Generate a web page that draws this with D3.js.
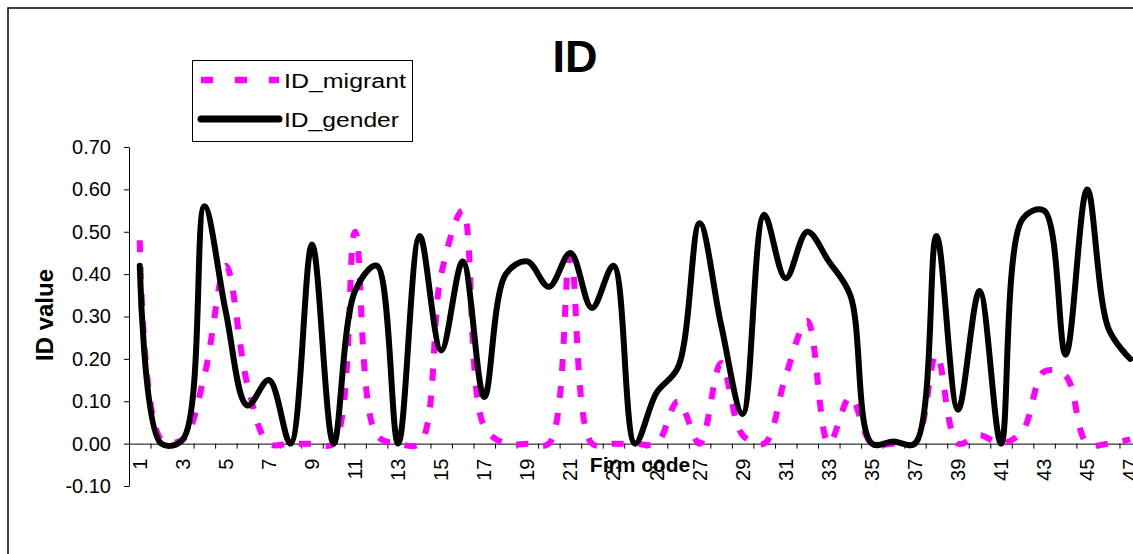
<!DOCTYPE html>
<html>
<head>
<meta charset="utf-8">
<script src="https://cdn.jsdelivr.net/npm/d3@7"></script>
<style>
  html, body { margin: 0; padding: 0; background: #fff; overflow: hidden; }
  svg { display: block; font-family: "Liberation Sans", Arial, sans-serif; }
</style>
</head>
<body>
<svg id="chart" width="1133" height="554"></svg>
<script>
// firm codes 1..47
var firms = d3.range(1, 48);

var idMigrant = [
  0.48, 0.01, 0.01, 0.16, 0.42, 0.14, 0.00, 0.00, 0.00, 0.00,
  0.50, 0.02, 0.00, 0.00, 0.40, 0.55, 0.04, 0.00, 0.00, 0.00,
  0.44, 0.00, 0.00, 0.00, 0.00, 0.10, 0.00, 0.19, 0.02, 0.00,
  0.16, 0.29, 0.00, 0.11, 0.00, 0.00, 0.00, 0.21, 0.00, 0.02,
  0.00, 0.03, 0.17, 0.16, 0.00, 0.00, 0.01
];

var idGender = [
  0.42, 0.00, 0.01, 0.56, 0.31, 0.09, 0.15, 0.00, 0.47, 0.00,
  0.36, 0.42, 0.00, 0.49, 0.22, 0.43, 0.11, 0.40, 0.43, 0.37,
  0.45, 0.32, 0.42, 0.00, 0.12, 0.18, 0.52, 0.28, 0.07, 0.54,
  0.39, 0.50, 0.43, 0.35, 0.00, 0.005, 0.00, 0.49, 0.08, 0.36,
  0.00, 0.53, 0.55, 0.21, 0.60, 0.27, 0.20
];

var yTicks = [-0.10, 0.00, 0.10, 0.20, 0.30, 0.40, 0.50, 0.60, 0.70];
var xLabels = firms.filter(function(d) { return d % 2 === 1; });

var seriesNames = ['ID_migrant', 'ID_gender'];
var magenta = '#ff00ff';

var svg = d3.select('#chart');

// outer chart frame (right / bottom edges fall outside the picture)
svg.append('rect')
  .attr('x', 8)
  .attr('y', 8)
  .attr('width', 1160)
  .attr('height', 580)
  .style('fill', '#fff')
  .style('stroke', '#111')
  .style('stroke-width', 1.6);

var plotLeft = 129, plotRight = 1141, plotTop = 147, plotBottom = 486;

var x = d3.scalePoint()
  .domain(firms)
  .range([plotLeft, plotRight])
  .padding(0.5);

var xEdge = d3.scaleLinear()
  .domain([0, firms.length])
  .range([plotLeft, plotRight]);

var y = d3.scaleLinear()
  .domain([-0.1, 0.7])
  .range([plotBottom, plotTop]);

// y axis
var yAxis = svg.append('g')
  .attr('transform', 'translate(' + plotLeft + ',0)')
  .call(d3.axisLeft(y)
    .tickValues(yTicks)
    .tickSize(5)
    .tickSizeOuter(0)
    .tickPadding(13)
    .tickFormat(function(d) { return d.toFixed(2); }));

yAxis.selectAll('text')
  .style('font-size', '20px')
  .style('font-family', '"Liberation Sans", Arial, sans-serif')
  .style('fill', '#000');

// x axis crosses at zero, ticks between categories
var xAxis = svg.append('g')
  .attr('transform', 'translate(0,' + y(0) + ')')
  .call(d3.axisBottom(xEdge)
    .tickValues(d3.range(0, firms.length + 1))
    .tickSize(5)
    .tickSizeOuter(0)
    .tickFormat(''));

svg.selectAll('.domain, .tick line')
  .style('stroke', '#000')
  .style('stroke-width', 1);

svg.append('g')
  .selectAll('text')
  .data(xLabels)
  .enter().append('text')
    .attr('transform', function(d) {
      return 'translate(' + x(d) + ',' + (y(0) + 15) + ') rotate(-90)';
    })
    .attr('dy', '0.35em')
    .attr('text-anchor', 'end')
    .style('font-size', '20px')
    .text(function(d) { return d; });

// series, smoothed like the spreadsheet lines
var line = d3.line()
  .x(function(d, i) { return x(firms[i]); })
  .y(function(d) { return y(d); })
  .curve(d3.curveCatmullRom.alpha(0.5));

svg.append('path')
  .datum(idMigrant)
  .attr('d', line)
  .style('fill', 'none')
  .style('stroke', magenta)
  .style('stroke-width', 6)
  .style('stroke-dasharray', '12,15')
  .style('stroke-linecap', 'butt');

svg.append('path')
  .datum(idGender)
  .attr('d', line)
  .style('fill', 'none')
  .style('stroke', '#000')
  .style('stroke-width', 6)
  .style('stroke-linejoin', 'round')
  .style('stroke-linecap', 'round');

// titles
svg.append('text')
  .attr('x', 575)
  .attr('y', 72)
  .attr('text-anchor', 'middle')
  .style('font-size', '45px')
  .style('font-weight', 'bold')
  .text('ID');

svg.append('text')
  .attr('x', 640)
  .attr('y', 472)
  .attr('text-anchor', 'middle')
  .style('font-size', '21px')
  .style('font-weight', 'bold')
  .text('Firm code');

svg.append('text')
  .attr('transform', 'translate(53,315) rotate(-90)')
  .attr('text-anchor', 'middle')
  .style('font-size', '24px')
  .style('font-weight', 'bold')
  .text('ID value');

// legend
var legend = svg.append('g');

legend.append('rect')
  .attr('x', 192.5)
  .attr('y', 60.5)
  .attr('width', 220)
  .attr('height', 81)
  .style('fill', '#fff')
  .style('stroke', '#000')
  .style('stroke-width', 1);

var legendRows = [
  { name: seriesNames[0], y: 80, color: magenta, dash: '12,22', cap: 'butt', w: 6.5, len: 122 },
  { name: seriesNames[1], y: 119, color: '#000', dash: null, cap: 'round', w: 7, len: 115 }
];

var rows = legend.selectAll('g.row')
  .data(legendRows)
  .enter().append('g')
    .classed('row', true);

rows.append('line')
  .attr('x1', 201)
  .attr('x2', 279)
  .attr('y1', function(d) { return d.y; })
  .attr('y2', function(d) { return d.y; })
  .style('stroke', function(d) { return d.color; })
  .style('stroke-width', function(d) { return d.w; })
  .style('stroke-dasharray', function(d) { return d.dash; })
  .style('stroke-linecap', function(d) { return d.cap; });

rows.append('text')
  .attr('x', 284)
  .attr('y', function(d) { return d.y + 7.5; })
  .attr('textLength', function(d) { return d.len; })
  .attr('lengthAdjust', 'spacingAndGlyphs')
  .style('font-size', '20px')
  .text(function(d) { return d.name; });
</script>
</body>
</html>
